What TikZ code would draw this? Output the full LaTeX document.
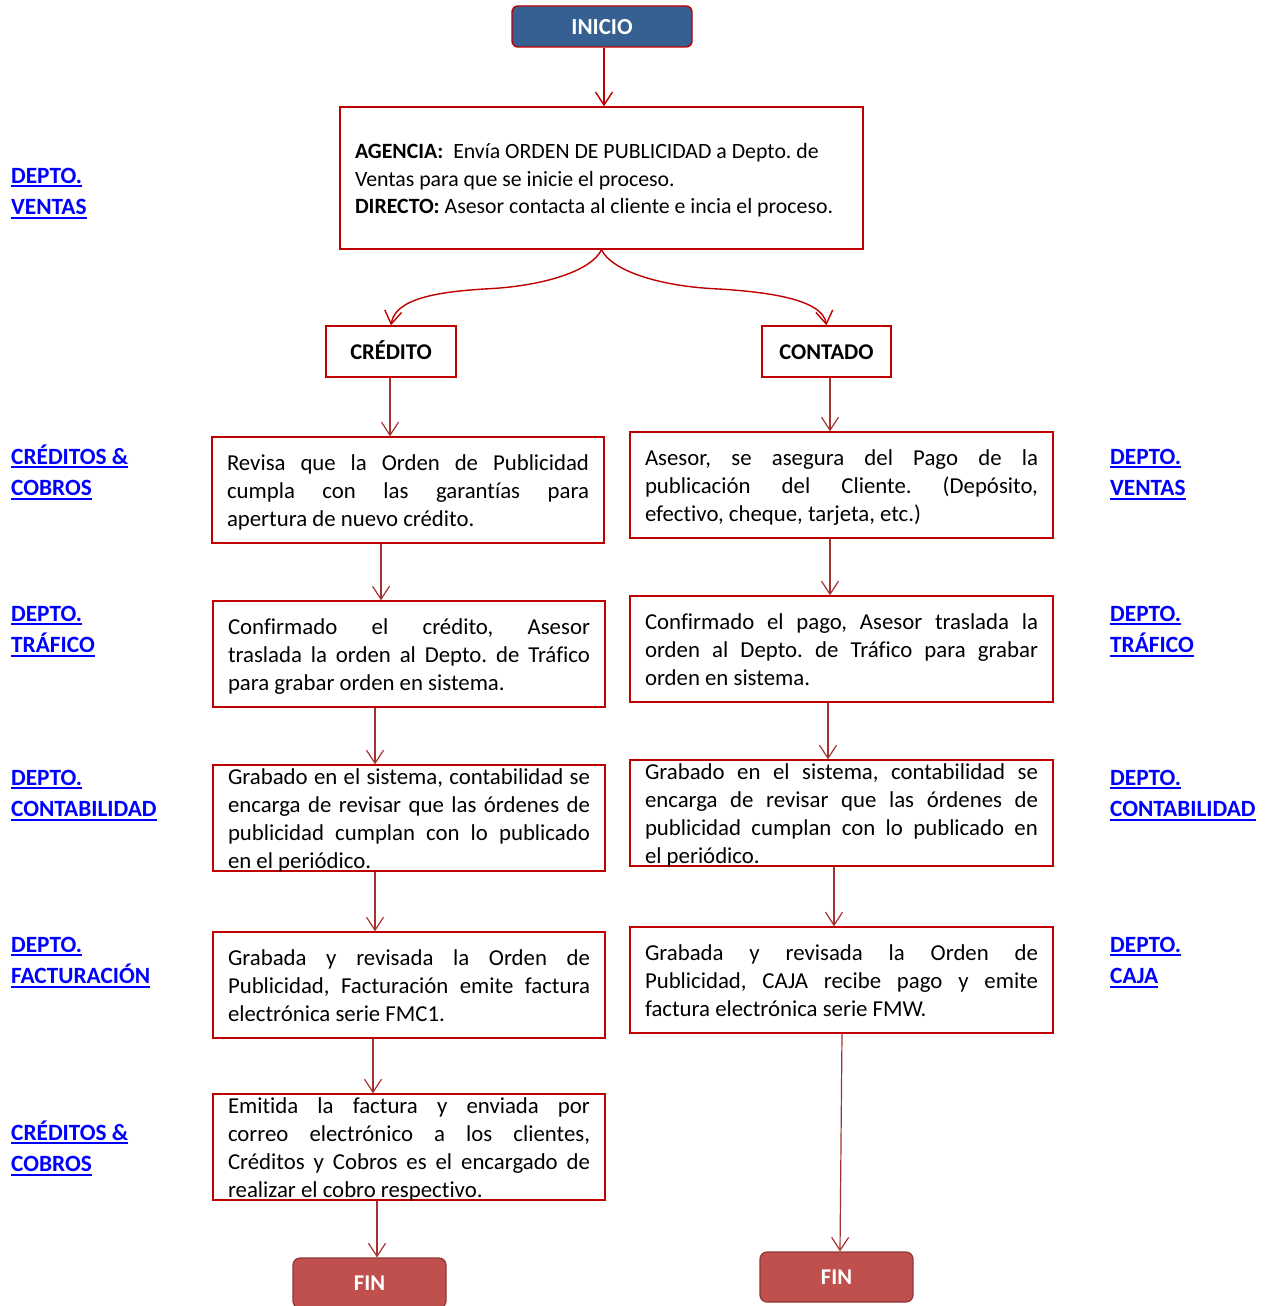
\documentclass[tikz,border=0pt]{standalone}
\usepackage{fontspec}
\setmainfont{Carlito}[Ligatures=NoCommon]
\usetikzlibrary{arrows.meta}
\definecolor{boxred}{HTML}{C00000}
\definecolor{arrred}{HTML}{A33230}
\definecolor{inifill}{HTML}{366092}
\definecolor{finfill}{HTML}{C0504D}
\definecolor{finline}{HTML}{8C3836}
\definecolor{lblblue}{HTML}{0000FF}
\newcommand\ns{\frenchspacing\spaceskip=0pt\xspaceskip=0pt\relax}
\newcommand\uln[1]{\setbox0\hbox{#1}\rlap{\vrule height -2pt depth 3.9pt width \wd0}\box0}
\newcommand\jl[2]{\leavevmode\hbox to #1{#2}\\}
\newcommand\lj[1]{\jl{362pt}{#1}}
\newcommand\rj[1]{\jl{393pt}{#1}}
\tikzset{
  lbox/.style={draw=boxred, line width=1.4pt, minimum width=392pt, minimum height=106pt, inner sep=0pt},
  rbox/.style={draw=boxred, line width=1.4pt, minimum width=423pt, minimum height=106pt, inner sep=0pt},
  ltxt/.style={inner sep=0pt, text width=362pt, align=left, font=\fontsize{22.8}{28}\selectfont},
  rtxt/.style={inner sep=0pt, text width=393pt, align=left, font=\fontsize{22.8}{28}\selectfont},
  smbox/.style={draw=boxred, line width=1.4pt, minimum height=51pt, inner sep=0pt, text height=15pt, text depth=0pt, font=\fontsize{22.5}{26}\selectfont\bfseries},
  finbox/.style={draw=finline, fill=finfill, rounded corners=7pt, line width=1.2pt, minimum width=153pt, minimum height=50pt, inner sep=0pt, text height=15pt, text depth=0pt, text=white, font=\fontsize{22.5}{26}\selectfont\bfseries},
  lab/.style={anchor=north west, inner sep=0pt, align=left, text=lblblue, font=\fontsize{23.3}{31.5}\selectfont\bfseries},
  arr/.style={draw=arrred, line width=1.2pt, -{Straight Barb[length=13pt,width=17pt]}},
  carr/.style={draw=boxred, line width=1.4pt, -{Straight Barb[length=13pt,width=17pt]}}
}
\begin{document}
\begin{tikzpicture}[x=1pt,y=-1pt]
\useasboundingbox (0,0) rectangle (1269,1306);
% start
\node[draw=boxred, fill=inifill, rounded corners=6pt, minimum width=180pt, minimum height=41pt, line width=1.4pt, inner sep=0pt, text height=17pt, text depth=0pt, text=white, font=\fontsize{23}{26}\selectfont\bfseries] (ini) at (602,26.5) {INICIO};
\node[draw=boxred, line width=1.4pt, minimum width=523pt, minimum height=142pt, inner sep=0pt] (ag) at (601.5,178) {};
\node[inner sep=0pt, text width=490pt, align=left, font=\fontsize{21.8}{27.5}\selectfont] (agt) at ([xshift=-1.5pt,yshift=-2.5pt]ag.center)
 {\ns\strut\textbf{AGENCIA:}\ \ Envía ORDEN DE PUBLICIDAD a Depto. de\\
  Ventas para que se inicie el proceso.\\
  \textbf{DIRECTO:} Asesor contacta al cliente e incia el proceso.\strut};
\node[smbox, minimum width=130pt] (cr) at (391,351.5) {CRÉDITO};
\node[smbox, minimum width=129pt] (co) at (826.5,351.5) {CONTADO};
% left column
\node[lbox] (l1) at (408,490) {};
\node[ltxt] (l1t) at ([yshift=-2.5pt]l1.center) {\ns\lj{\strut Revisa que la Orden de Publicidad}\lj{cumpla con las garantías para}apertura de nuevo crédito.\strut};
\node[lbox] (l2) at (409,654) {};
\node[ltxt] (l2t) at ([yshift=-2.5pt]l2.center) {\ns\lj{\strut Confirmado el crédito, Asesor}\lj{traslada la orden al Depto. de Tráfico}para grabar orden en sistema.\strut};
\node[lbox] (l3) at (409,818) {};
\node[ltxt] (l3t) at ([yshift=-2.5pt]l3.center) {\ns\lj{\strut Grabado en el sistema, contabilidad se}\lj{encarga de revisar que las órdenes de}\lj{publicidad cumplan con lo publicado}en el periódico.\strut};
\node[lbox] (l4) at (409,985) {};
\node[ltxt] (l4t) at ([yshift=-2.5pt]l4.center) {\ns\lj{\strut Grabada y revisada la Orden de}\lj{Publicidad, Facturación emite factura}electrónica serie FMC1.\strut};
\node[lbox] (l5) at (409,1147) {};
\node[ltxt] (l5t) at ([yshift=-2.5pt]l5.center) {\ns\lj{\strut Emitida la factura y enviada por}\lj{correo electrónico a los clientes,}\lj{Créditos y Cobros es el encargado de}realizar el cobro respectivo.\strut};
% right column
\node[rbox] (r1) at (841.5,485) {};
\node[rtxt] (r1t) at ([yshift=-2.5pt]r1.center) {\ns\rj{\strut Asesor, se asegura del Pago de la}\rj{publicación del Cliente. (Depósito,}efectivo, cheque, tarjeta, etc.)\strut};
\node[rbox] (r2) at (841.5,649) {};
\node[rtxt] (r2t) at ([yshift=-2.5pt]r2.center) {\ns\rj{\strut Confirmado el pago, Asesor traslada la}\rj{orden al Depto. de Tráfico para grabar}orden en sistema.\strut};
\node[rbox] (r3) at (841.5,813) {};
\node[rtxt] (r3t) at ([yshift=-2.5pt]r3.center) {\ns\rj{\strut Grabado en el sistema, contabilidad se}\rj{encarga de revisar que las órdenes de}\rj{publicidad cumplan con lo publicado en}el periódico.\strut};
\node[rbox] (r4) at (841.5,980) {};
\node[rtxt] (r4t) at ([yshift=-2.5pt]r4.center) {\ns\rj{\strut Grabada y revisada la Orden de}\rj{Publicidad, CAJA recibe pago y emite}factura electrónica serie FMW.\strut};
% ends
\node[finbox] (fl) at (369.5,1283) {FIN};
\node[finbox] (fr) at (836.5,1277) {FIN};
% labels left
\node[lab] (lv) at (11,161) {\strut\uln{DEPTO.}\\\uln{VENTAS}};
\node[lab] (lc1) at (11,442) {\strut\uln{CRÉDITOS \&}\\\uln{COBROS}};
\node[lab] (lt) at (11,599) {\strut\uln{DEPTO.}\\\uln{TRÁFICO}};
\node[lab] (lco) at (11,763) {\strut\uln{DEPTO.}\\\uln{CONTABILIDAD}};
\node[lab] (lf) at (11,930) {\strut\uln{DEPTO.}\\\uln{FACTURACIÓN}};
\node[lab] (lc2) at (11,1118) {\strut\uln{CRÉDITOS \&}\\\uln{COBROS}};
% labels right
\node[lab] (rv) at (1110,442) {\strut\uln{DEPTO.}\\\uln{VENTAS}};
\node[lab] (rt) at (1110,599) {\strut\uln{DEPTO.}\\\uln{TRÁFICO}};
\node[lab] (rco) at (1110,763) {\strut\uln{DEPTO.}\\\uln{CONTABILIDAD}};
\node[lab] (rca) at (1110,930) {\strut\uln{DEPTO.}\\\uln{CAJA}};
% connectors
\draw[carr] ([xshift=2pt]ini.south) -- ([xshift=2pt]ini.south |- ag.north);
\draw[carr] (ag.south) .. controls +(-10,21) and +(55,-3) .. ++(-112,39) .. controls +(-55,3) and +(4,-26) .. (cr.north);
\draw[carr] (ag.south) .. controls +(10,21) and +(-55,-3) .. ++(112,39) .. controls +(55,3) and +(-4,-26) .. (co.north);
\draw[arr] ([xshift=-1pt]cr.south) -- ([xshift=-1pt]cr.south |- l1.north);
\draw[arr] ([xshift=3.5pt]co.south) -- ([xshift=3.5pt]co.south |- r1.north);
\draw[arr] ([xshift=-27pt]l1.south) -- ([xshift=-27pt]l1.south |- l2.north);
\draw[arr] ([xshift=-11.5pt]r1.south) -- ([xshift=-11.5pt]r1.south |- r2.north);
\draw[arr] ([xshift=-34pt]l2.south) -- ([xshift=-34pt]l2.south |- l3.north);
\draw[arr] ([xshift=-13.5pt]r2.south) -- ([xshift=-13.5pt]r2.south |- r3.north);
\draw[arr] ([xshift=-34pt]l3.south) -- ([xshift=-34pt]l3.south |- l4.north);
\draw[arr] ([xshift=-7.5pt]r3.south) -- ([xshift=-7.5pt]r3.south |- r4.north);
\draw[arr] ([xshift=-36pt]l4.south) -- ([xshift=-36pt]l4.south |- l5.north);
\draw[arr] ([xshift=-32pt]l5.south) -- ([xshift=7.5pt]fl.north);
\draw[arr] ([xshift=0.5pt]r4.south) -- ([xshift=3.5pt]fr.north);
\end{tikzpicture}
\end{document}
